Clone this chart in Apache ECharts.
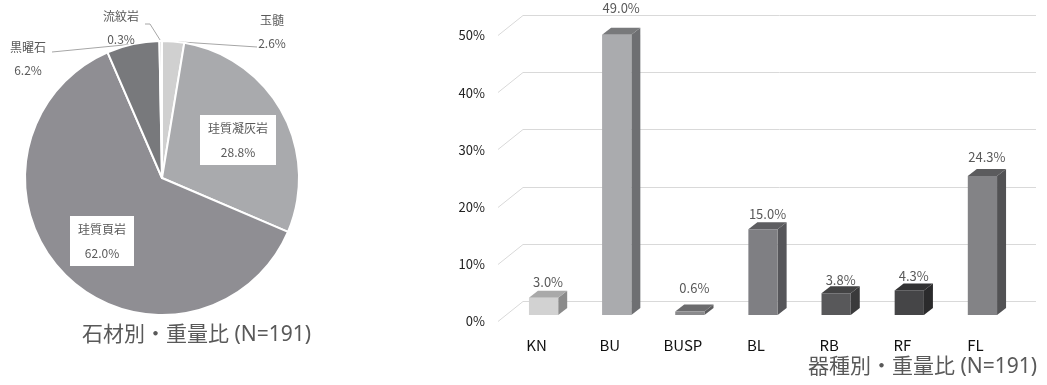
<!DOCTYPE html>
<html>
<head>
<meta charset="utf-8">
<script src="https://cdn.jsdelivr.net/npm/echarts@6/dist/echarts.min.js"></script>
<style>
  html, body { margin: 0; padding: 0; background: #fff; }
  #chart { width: 1047px; height: 385px; }
</style>
</head>
<body>
<div id="chart"></div>
<script>
// Stone material shares by weight (%)
const stoneNames = ['玉髄', '珪質凝灰岩', '珪質頁岩', '黒曜石', '流紋岩'];
const stoneShares = [2.6, 28.8, 62.0, 6.2, 0.3];

// Tool type shares by weight (%)
const toolTypes = ['KN', 'BU', 'BUSP', 'BL', 'RB', 'RF', 'FL'];
const toolShares = [3.0, 49.0, 0.6, 15.0, 3.8, 4.3, 24.3];

// Value axis ticks (%)
const percentTicks = [0, 10, 20, 30, 40, 50];

const FONT = '"Noto Sans CJK JP", "Noto Sans", sans-serif';
const TITLE_FONT = '"Noto Sans", "Noto Sans CJK JP", sans-serif';

const stoneColors = ['#d0d0d0', '#a9aaad', '#8f8e93', '#78797c', '#d6d6d6'];

// Where each pie label sits, and how its leader line bends into it
const pieLabelSpots = {
  '玉髄':      { c: [272, 32], hook: [-15, 15] },
  '珪質凝灰岩': { c: [238, 140] },
  '珪質頁岩':   { c: [102, 241] },
  '黒曜石':    { c: [28, 59], hook: [24, -7] },
  '流紋岩':    { c: [121, 28], hook: [24, -4], bend: [29, -4] }
};

// Face shades of each 3D column: front, top, side
const barFaces = [
  { front: '#d2d2d2', top: '#a9a9a9', side: '#8b8b8b' },
  { front: '#aaabae', top: '#78797b', side: '#6e6f72' },
  { front: '#8a8a8c', top: '#6c6c6e', side: '#5c5c5e' },
  { front: '#7f7f83', top: '#5e5e61', side: '#56565a' },
  { front: '#58585a', top: '#434344', side: '#3a3a3b' },
  { front: '#454547', top: '#333334', side: '#2b2b2c' },
  { front: '#838386', top: '#5b5b5d', side: '#525254' }
];
// How far each value label floats above its column (px)
const valueLabelLift = [16, 27, 24, 15, 13, 14, 19];
const DEPTH_X = 9, DEPTH_Y = -7;

const chart = echarts.init(document.getElementById('chart'), null, { renderer: 'canvas' });

function renderColumn(params, api) {
  const i = api.value(0);
  const v = api.value(1);
  const top = api.coord([i, v]);
  const base = api.coord([i, 0]);
  const w = api.size([1, 0])[0] * 0.4;
  const x0 = top[0] - w / 2, x1 = top[0] + w / 2;
  const yT = top[1], yB = base[1];
  const f = barFaces[i];
  return {
    type: 'group',
    children: [
      { type: 'polygon', shape: { points: [[x1, yT], [x1 + DEPTH_X, yT + DEPTH_Y], [x1 + DEPTH_X, yB + DEPTH_Y], [x1, yB]] }, style: { fill: f.side } },
      { type: 'polygon', shape: { points: [[x0, yT], [x0 + DEPTH_X, yT + DEPTH_Y], [x1 + DEPTH_X, yT + DEPTH_Y], [x1, yT]] }, style: { fill: f.top } },
      { type: 'rect', shape: { x: x0, y: yT, width: w, height: yB - yT }, style: { fill: f.front } },
      { type: 'text', style: { text: v.toFixed(1) + '%', x: top[0] + 4.5, y: yT - valueLabelLift[i], align: 'center', verticalAlign: 'middle', fill: '#595959', font: '13px ' + FONT } }
    ]
  };
}

function renderWallLine(params, api) {
  const y = Math.round(api.coord([0, api.value(1)])[1]);
  const cs = params.coordSys;
  return {
    type: 'polyline',
    shape: { points: [[cs.x - 9, y + 6.5], [cs.x + 16, y - 13.5], [cs.x + cs.width + 17, y - 13.5]] },
    style: { stroke: '#d9d9d9', lineWidth: 1, fill: null }
  };
}

const option = {
  animation: false,
  textStyle: { fontFamily: FONT },
  title: [
    {
      text: '石材別・重量比 (N=191)', left: 82, top: 325, padding: 0,
      textStyle: { fontSize: 21, fontWeight: 'normal', color: '#595959', fontFamily: TITLE_FONT }
    },
    {
      text: '器種別・重量比 (N=191)', left: 808, top: 357, padding: 0,
      textStyle: { fontSize: 21, fontWeight: 'normal', color: '#595959', fontFamily: TITLE_FONT }
    }
  ],
  grid: { left: 507, right: 28, top: 29, bottom: 70 },
  xAxis: {
    type: 'category',
    data: toolTypes,
    axisLine: { show: false },
    axisTick: { show: false },
    axisLabel: { margin: 23, padding: [0, 14, 0, 0], fontSize: 15, color: '#111', fontFamily: FONT }
  },
  yAxis: {
    type: 'value',
    min: 0, max: 50, interval: 10,
    axisLine: { show: false },
    axisTick: { show: false },
    splitLine: { show: false },
    axisLabel: { margin: 22, verticalAlign: 'top', lineHeight: 13, formatter: '{value}%', fontSize: 13, color: '#222', fontFamily: FONT }
  },
  series: [
    {
      type: 'pie',
      center: [162, 178],
      radius: 137,
      startAngle: 90,
      clockwise: true,
      avoidLabelOverlap: false,
      silent: true,
      itemStyle: { borderColor: '#fff', borderWidth: 2 },
      label: {
        position: 'outside',
        formatter: p => p.name + '\n' + p.value.toFixed(1) + '%',
        color: '#595959', fontSize: 12, lineHeight: 23, fontFamily: FONT
      },
      labelLine: { show: true, length: 10, length2: 10, lineStyle: { color: '#a6a6a6', width: 1 } },
      labelLayout: function (params) {
        const s = pieLabelSpots[stoneNames[params.dataIndex]];
        const out = { x: s.c[0], y: s.c[1], align: 'center', verticalAlign: 'middle' };
        if (s.hook && params.labelLinePoints) {
          const p0 = params.labelLinePoints[0];
          const end = [s.c[0] + s.hook[0], s.c[1] + s.hook[1]];
          const mid = s.bend ? [s.c[0] + s.bend[0], s.c[1] + s.bend[1]] : end;
          out.labelLinePoints = [p0, mid, end];
        }
        return out;
      },
      data: stoneNames.map((name, i) => {
        const item = { name: name, value: stoneShares[i], itemStyle: { color: stoneColors[i] } };
        if (stoneShares[i] > 20) {
          item.label = { position: 'inside', backgroundColor: '#fff', padding: [1, 8], lineHeight: 24 };
          item.labelLine = { show: false };
        }
        return item;
      })
    },
    {
      type: 'custom',
      silent: true,
      z: 1,
      renderItem: renderWallLine,
      data: percentTicks.map(t => [0, t])
    },
    {
      type: 'custom',
      silent: true,
      z: 2,
      renderItem: renderColumn,
      data: toolShares.map((v, i) => [i, v])
    }
  ]
};

chart.setOption(option);
</script>
</body>
</html>
